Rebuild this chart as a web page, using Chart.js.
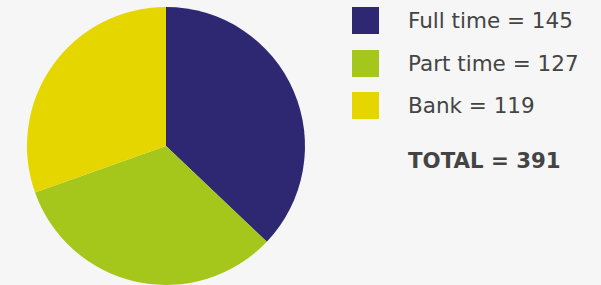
<!DOCTYPE html>
<html>
<head>
<meta charset="utf-8">
<script src="https://cdn.jsdelivr.net/npm/chart.js@4"></script>
<style>
  html, body { margin: 0; padding: 0; background: #f6f6f6; width: 601px; height: 285px; overflow: hidden; }
  #wrap { position: absolute; left: 0; top: 0; width: 332px; height: 285px; }
  #legend { position: absolute; left: 352px; top: 7px; font-family: "DejaVu Sans", Verdana, sans-serif; color: #444; }
  .item { position: absolute; left: 0; width: 260px; height: 27px; }
  .sw { position: absolute; left: 0; top: 0; width: 27px; height: 27px; }
  .lbl { position: absolute; left: 56px; top: 0; line-height: 27px; font-size: 21.5px; white-space: nowrap; }
  #total { position: absolute; left: 56px; top: 140px; font-size: 21.3px; font-weight: bold; white-space: nowrap; line-height: 27px; }
</style>
</head>
<body>
<div id="wrap"><canvas id="c"></canvas></div>
<div id="legend"></div>
<script>
const categories = ["Full time", "Part time", "Bank"];
const values = [145, 127, 119];
const colors = ["#2e2873", "#a5c61a", "#e5d600"];
const totalLabel = "TOTAL";

const total = values.reduce((a, b) => a + b, 0);

new Chart(document.getElementById("c"), {
  type: "pie",
  data: {
    labels: categories,
    datasets: [{ data: values, backgroundColor: colors, borderWidth: 0 }]
  },
  options: {
    responsive: true,
    maintainAspectRatio: false,
    animation: false,
    layout: { padding: { left: 27, right: 27, top: 7, bottom: 0 } },
    plugins: { legend: { display: false }, tooltip: { enabled: false } }
  }
});

const leg = document.getElementById("legend");
categories.forEach((cat, i) => {
  const it = document.createElement("div");
  it.className = "item";
  it.style.top = (i * 42.5) + "px";
  const sw = document.createElement("div");
  sw.className = "sw";
  sw.style.background = colors[i];
  const lbl = document.createElement("div");
  lbl.className = "lbl";
  lbl.textContent = cat + " = " + values[i];
  it.appendChild(sw); it.appendChild(lbl);
  leg.appendChild(it);
});
const t = document.createElement("div");
t.id = "total";
t.textContent = totalLabel + " = " + total;
leg.appendChild(t);
</script>
</body>
</html>
